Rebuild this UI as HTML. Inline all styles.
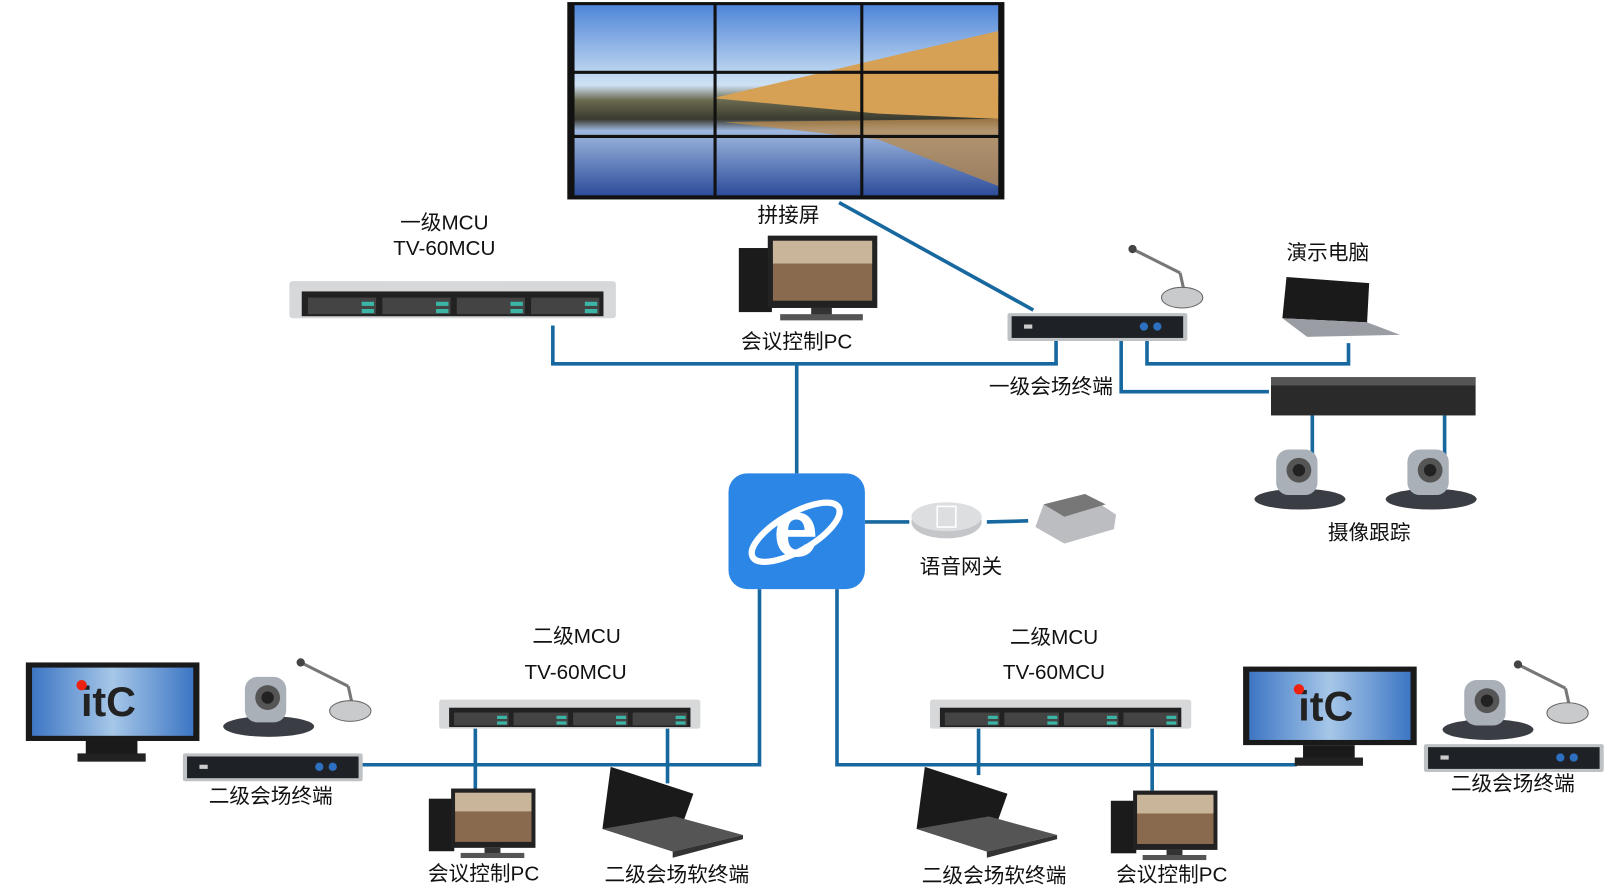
<!DOCTYPE html>
<html><head><meta charset="utf-8"><style>
html,body{margin:0;padding:0;background:#fff;width:1612px;height:896px;overflow:hidden}
svg{display:block}
text{font-family:"Liberation Sans","Noto Sans CJK SC",sans-serif;font-size:20px;fill:#111;text-anchor:middle}
</style></head><body>
<svg width="1612" height="896" viewBox="0 0 1560 867" preserveAspectRatio="none" xmlns="http://www.w3.org/2000/svg">
<defs>
<linearGradient id="sky" x1="0" y1="0" x2="0" y2="1"><stop offset="0" stop-color="#4f86d8"/><stop offset="0.42" stop-color="#cfe2f4"/><stop offset="0.5" stop-color="#6a6a50"/><stop offset="0.6" stop-color="#3a3a30"/><stop offset="0.66" stop-color="#9fb8e0"/><stop offset="1" stop-color="#2d4d9a"/></linearGradient>
<linearGradient id="scr" x1="0" y1="0" x2="1" y2="0"><stop offset="0" stop-color="#3d76c4"/><stop offset="0.5" stop-color="#a6c7e8"/><stop offset="1" stop-color="#3d76c4"/></linearGradient>
<g id="mcu"><rect x="0" y="0" width="316" height="36" rx="3" fill="#d6d8da"/><rect x="12" y="10" width="292" height="24" fill="#222"/>
<rect x="18" y="16" width="66" height="16" fill="#444"/><rect x="90" y="16" width="66" height="16" fill="#444"/><rect x="162" y="16" width="66" height="16" fill="#444"/><rect x="234" y="16" width="66" height="16" fill="#444"/>
<rect x="70" y="20" width="12" height="4" fill="#3bb6a6"/><rect x="142" y="20" width="12" height="4" fill="#3bb6a6"/><rect x="214" y="20" width="12" height="4" fill="#3bb6a6"/><rect x="286" y="20" width="12" height="4" fill="#3bb6a6"/>
<rect x="70" y="27" width="12" height="4" fill="#3bb6a6"/><rect x="142" y="27" width="12" height="4" fill="#3bb6a6"/><rect x="214" y="27" width="12" height="4" fill="#3bb6a6"/><rect x="286" y="27" width="12" height="4" fill="#3bb6a6"/></g>
<g id="term"><rect x="0" y="0" width="174" height="27" rx="2" fill="#bfc2c5"/><rect x="4" y="3" width="166" height="21" fill="#1e2226"/><circle cx="132" cy="13" r="4" fill="#2d6fc0"/><circle cx="145" cy="13" r="4" fill="#2d6fc0"/><rect x="16" y="11" width="8" height="4" fill="#ccc"/></g>
<g id="pc"><rect x="0" y="12" width="32" height="62" fill="#1b1b1b"/><rect x="28" y="0" width="106" height="70" fill="#222"/><rect x="33" y="5" width="96" height="58" fill="#8a6a4e"/><rect x="33" y="5" width="96" height="22" fill="#c9b59a"/><rect x="70" y="70" width="20" height="10" fill="#333"/><rect x="40" y="76" width="80" height="6" fill="#555"/></g>
<g id="lap"><polygon points="8,0 88,26 68,82 0,60" fill="#1a1a1a"/><polygon points="0,60 68,82 136,66 70,48" fill="#555"/><polygon points="68,82 136,66 136,70 68,88" fill="#333"/></g>
<g id="cam"><ellipse cx="45" cy="48" rx="44" ry="10" fill="#3a3e44"/><rect x="22" y="0" width="40" height="44" rx="12" fill="#aab0b8"/><circle cx="44" cy="20" r="12" fill="#555"/><circle cx="44" cy="20" r="6" fill="#222"/></g>
<g id="mic"><line x1="8" y1="4" x2="52" y2="26" stroke="#777" stroke-width="3"/><line x1="52" y1="26" x2="56" y2="44" stroke="#777" stroke-width="3"/><circle cx="6" cy="3" r="4" fill="#444"/><ellipse cx="54" cy="50" rx="20" ry="10" fill="#c8cacc" stroke="#666"/></g>
<g id="mon"><rect x="0" y="0" width="168" height="76" fill="#1a1a1a"/><rect x="6" y="5" width="156" height="66" fill="url(#scr)"/><text x="80" y="52" style="font-size:40px;font-weight:bold;fill:#222;font-family:'Liberation Sans',sans-serif">itC</text><circle cx="54" cy="22" r="5" fill="#e21"/><rect x="58" y="76" width="50" height="14" fill="#1a1a1a"/><rect x="50" y="88" width="66" height="8" fill="#222"/></g>
</defs>

<!-- lines -->
<g stroke="#1868a0" stroke-width="3.5" fill="none">
<line x1="812" y1="196" x2="1000" y2="300"/>
<polyline points="535,315 535,352 1022,352 1022,330"/>
<line x1="771" y1="352" x2="771" y2="458"/>
<polyline points="1110,330 1110,352 1305,352 1305,332"/>
<polyline points="1085,330 1085,379 1228,379"/>
<line x1="1270" y1="402" x2="1270" y2="440"/><line x1="1398" y1="402" x2="1398" y2="440"/>
<line x1="837" y1="505" x2="880" y2="505"/><line x1="955" y1="505" x2="995" y2="504"/>
<polyline points="735,570 735,740 350,740"/>
<polyline points="810,570 810,740 1255,740"/>
<line x1="460" y1="705" x2="460" y2="765"/><line x1="646" y1="705" x2="646" y2="758"/>
<line x1="947" y1="705" x2="947" y2="750"/><line x1="1115" y1="705" x2="1115" y2="765"/>
</g>

<!-- video wall -->
<rect x="549" y="2" width="423" height="191" fill="#111"/>
<rect x="556" y="5" width="410" height="184" fill="url(#sky)"/>
<polygon points="690,95 966,30 966,115 850,110" fill="#d6a055"/>
<polygon points="700,118 966,115 966,180 850,135" fill="#b98a4a" opacity="0.75"/>
<g stroke="#111" stroke-width="3"><line x1="692" y1="4" x2="692" y2="190"/><line x1="834" y1="4" x2="834" y2="190"/><line x1="552" y1="70" x2="968" y2="70"/><line x1="552" y1="132" x2="968" y2="132"/></g>

<text x="763" y="215">拼接屏</text>
<text x="430" y="222">一级MCU</text>
<text x="430" y="247">TV-60MCU</text>
<use href="#mcu" x="280" y="272"/>
<use href="#pc" x="715" y="228"/>
<text x="771" y="337">会议控制PC</text>
<use href="#mic" x="1090" y="238"/>
<use href="#term" x="975" y="303"/>
<text x="1285" y="251">演示电脑</text>
<g transform="translate(1235,268)"><polygon points="10,0 90,6 88,44 6,40" fill="#1a1a1a"/><polygon points="6,40 88,44 120,56 30,58" fill="#9a9ea4"/></g>
<text x="1017" y="381">一级会场终端</text>
<rect x="1230" y="365" width="198" height="37" fill="#2a2a2a"/><rect x="1230" y="365" width="198" height="8" fill="#555"/>
<use href="#cam" x="1213" y="435"/><use href="#cam" x="1340" y="435"/>
<text x="1325" y="522">摄像跟踪</text>

<!-- IE -->
<rect x="705" y="458" width="132" height="112" rx="18" fill="#2b86e6"/>
<text x="770" y="538" style="font-size:78px;font-weight:bold;fill:#fff;font-family:'Liberation Sans',sans-serif">e</text>
<ellipse cx="770" cy="515" rx="48" ry="18" fill="none" stroke="#fff" stroke-width="6" transform="rotate(-30 770 515)"/>
<ellipse cx="916" cy="505" rx="34" ry="16" fill="#c4c6c9"/><ellipse cx="916" cy="500" rx="34" ry="14" fill="#dcdee0"/>
<rect x="907" y="490" width="18" height="20" fill="none" stroke="#fff" stroke-width="1.5"/>
<g transform="translate(1000,478)"><polygon points="10,10 50,0 80,20 78,34 30,48 2,32" fill="#bbbdc0"/><polygon points="10,10 50,0 70,10 30,22" fill="#777"/></g>
<text x="930" y="555">语音网关</text>

<!-- lower left -->
<text x="558" y="622">二级MCU</text><text x="557" y="657">TV-60MCU</text>
<use href="#mcu" transform="translate(425,677) scale(0.8,0.78)"/>
<use href="#mon" x="25" y="641"/>
<use href="#cam" x="215" y="655"/><use href="#mic" x="285" y="638"/>
<use href="#term" x="177" y="729"/>
<text x="262" y="777">二级会场终端</text>
<use href="#pc" transform="translate(415,763) scale(0.77,0.82)"/>
<text x="468" y="852">会议控制PC</text>
<use href="#lap" x="583" y="742"/>
<text x="655" y="853">二级会场软终端</text>

<!-- lower right -->
<text x="1020" y="623">二级MCU</text><text x="1020" y="657">TV-60MCU</text>
<use href="#mcu" transform="translate(900,677) scale(0.8,0.78)"/>
<use href="#mon" x="1203" y="645"/>
<use href="#cam" x="1395" y="658"/><use href="#mic" x="1463" y="640"/>
<use href="#term" x="1378" y="720"/>
<text x="1464" y="765">二级会场终端</text>
<use href="#lap" x="887" y="742"/>
<text x="962" y="854">二级会场软终端</text>
<use href="#pc" transform="translate(1075,765) scale(0.77,0.82)"/>
<text x="1134" y="853">会议控制PC</text>
</svg>
</body></html>
